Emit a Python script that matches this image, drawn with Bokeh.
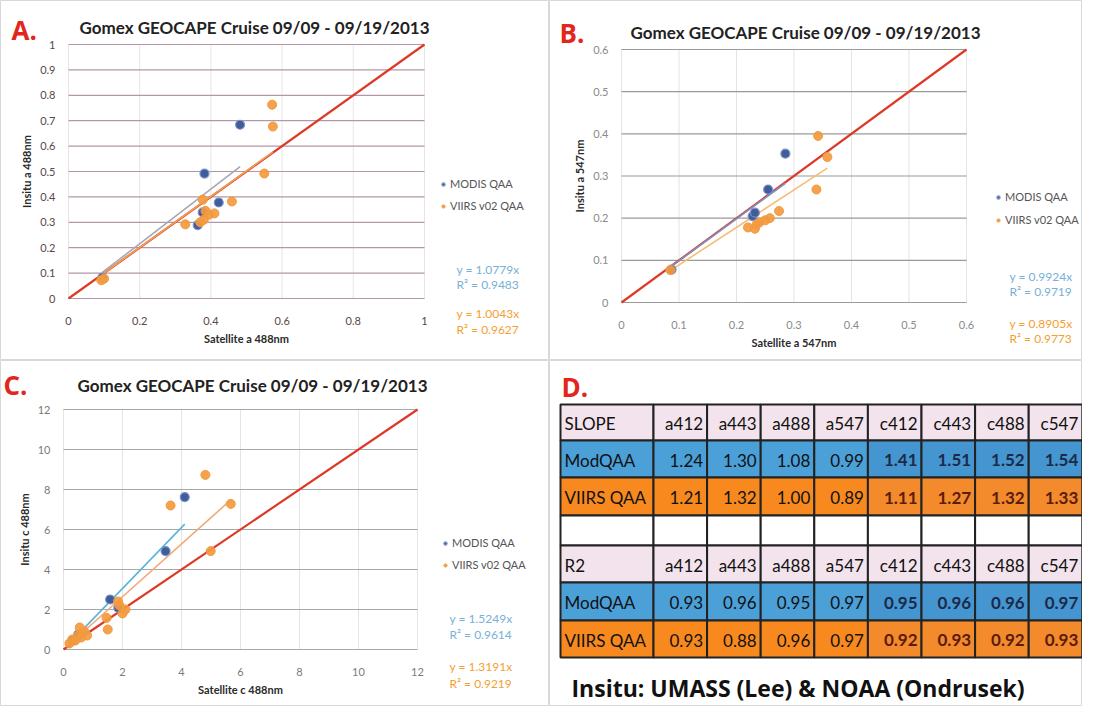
from bokeh.plotting import figure
from bokeh.layouts import column, row
from bokeh.models import Range1d, FixedTicker, Label, Legend, LegendItem
from bokeh.embed import file_html
from bokeh.resources import INLINE
from bokeh.core.properties import value

# ---------------- data ----------------
chart_title = "Gomex GEOCAPE Cruise 09/09 - 09/19/2013"
series_names = ["MODIS QAA", "VIIRS v02 QAA"]

# Panel A : a 488nm
a488_modis_sat = [0.482, 0.382, 0.422, 0.377, 0.363, 0.095]
a488_modis_ins = [0.684, 0.492, 0.378, 0.339, 0.289, 0.082]
a488_viirs_sat = [0.572, 0.574, 0.550, 0.459, 0.377, 0.328, 0.385, 0.395, 0.410, 0.380, 0.370, 0.092, 0.100]
a488_viirs_ins = [0.763, 0.677, 0.492, 0.382, 0.389, 0.292, 0.345, 0.330, 0.335, 0.310, 0.300, 0.072, 0.078]
a488_fit = {"modis": (1.0779, 0.9483), "viirs": (1.0043, 0.9627)}
a488_ticks_x = [0, 0.2, 0.4, 0.6, 0.8, 1]
a488_ticks_y = [0, 0.1, 0.2, 0.3, 0.4, 0.5, 0.6, 0.7, 0.8, 0.9, 1]

# Panel B : a 547nm
a547_modis_sat = [0.285, 0.255, 0.228, 0.232, 0.087]
a547_modis_ins = [0.353, 0.268, 0.205, 0.213, 0.078]
a547_viirs_sat = [0.342, 0.358, 0.339, 0.274, 0.220, 0.232, 0.240, 0.250, 0.258, 0.235, 0.085]
a547_viirs_ins = [0.395, 0.345, 0.268, 0.217, 0.178, 0.175, 0.190, 0.195, 0.200, 0.185, 0.077]
a547_fit = {"modis": (0.9924, 0.9719), "viirs": (0.8905, 0.9773)}
a547_ticks_x = [0, 0.1, 0.2, 0.3, 0.4, 0.5, 0.6]
a547_ticks_y = [0, 0.1, 0.2, 0.3, 0.4, 0.5, 0.6]

# Panel C : c 488nm
c488_modis_sat = [4.11, 3.46, 1.58, 1.86, 0.30, 0.50]
c488_modis_ins = [7.62, 4.92, 2.50, 2.08, 0.45, 0.75]
c488_viirs_sat = [4.81, 3.63, 5.67, 4.99, 1.90, 2.00, 2.10, 1.85, 1.50, 1.46,
                  0.55, 0.70, 0.50, 0.30, 0.20, 0.60, 0.40, 0.80]
c488_viirs_ins = [8.73, 7.20, 7.28, 4.92, 2.20, 1.80, 2.00, 2.40, 1.00, 1.58,
                  1.10, 0.90, 0.70, 0.50, 0.30, 0.60, 0.45, 0.70]
c488_fit = {"modis": (1.5249, 0.9614), "viirs": (1.3191, 0.9219)}
c488_ticks_x = [0, 2, 4, 6, 8, 10, 12]
c488_ticks_y = [0, 2, 4, 6, 8, 10, 12]

# Panel D : table
table_cols = ["a412", "a443", "a488", "a547", "c412", "c443", "c488", "c547"]
slope_modis = [1.24, 1.30, 1.08, 0.99, 1.41, 1.51, 1.52, 1.54]
slope_viirs = [1.21, 1.32, 1.00, 0.89, 1.11, 1.27, 1.32, 1.33]
r2_modis = [0.93, 0.96, 0.95, 0.97, 0.95, 0.96, 0.96, 0.97]
r2_viirs = [0.93, 0.88, 0.96, 0.97, 0.92, 0.93, 0.92, 0.93]
row_names = ["ModQAA", "VIIRS QAA"]
footer = "Insitu: UMASS (Lee) & NOAA (Ondrusek)"

FONT = "Lato"
MODIS_C = "#3f5d9c"
VIIRS_C = "#f39a3e"
RED_C = "#dc3a26"
PANEL_EDGE = "#d8d8d8"


def fmt_tick(t):
    return "%g" % t


def make_chart(letter, xlab, ylab, xmax, ticks_x, ticks_y, ms, mi, vs, vi, fit,
               W, H, fl, fr, ft, fb, hgrid, vgrid, tick_color,
               title_pos, letter_pos, legend_pos, legend_sp,
               eq_x, eq_ys, trend_colors):
    # fl/fr/ft/fb: pixel edges of the plotting area inside the panel
    sx = xmax / (fr - fl)
    sy = xmax / (fb - ft)

    def P(rx, ry):
        return ((rx - fl) * sx, (fb - ry) * sy)

    p = figure(width=W, height=H, output_backend="svg", toolbar_location=None,
               x_range=Range1d(-fl * sx, (W - fl) * sx),
               y_range=Range1d((fb - H) * sy, fb * sy),
               min_border_left=0, min_border_right=0,
               min_border_top=0, min_border_bottom=0)
    p.outline_line_color = PANEL_EDGE
    p.background_fill_color = "white"
    p.border_fill_color = "white"
    p.grid.visible = False
    for ax, tk in ((p.xaxis[0], ticks_x), (p.yaxis[0], ticks_y)):
        ax.ticker = FixedTicker(ticks=tk)
        ax.major_label_overrides = {t: fmt_tick(t) for t in tk}
        ax.fixed_location = 0
        ax.bounds = (0, xmax)
        ax.axis_line_color = None
        ax.major_tick_line_color = None
        ax.minor_tick_line_color = None
        ax.major_label_text_font = FONT
        ax.major_label_text_font_size = "11px"
        ax.major_label_text_color = tick_color
        ax.axis_label_text_font = FONT
        ax.axis_label_text_font_size = "11px"
        ax.axis_label_text_font_style = "bold"
        ax.axis_label_text_color = "#2a2a2a"
    p.xaxis.axis_label = xlab
    p.yaxis.axis_label = ylab
    p.xaxis.major_label_standoff = 12
    p.xaxis.axis_label_standoff = 4
    p.yaxis.major_label_standoff = 7
    p.yaxis.axis_label_standoff = 4

    # grid lines limited to the plotting area
    p.segment(x0=ticks_x, y0=[0] * len(ticks_x), x1=ticks_x, y1=[xmax] * len(ticks_x),
              line_color=vgrid, line_width=1)
    p.segment(x0=[0] * len(ticks_y), y0=ticks_y, x1=[xmax] * len(ticks_y), y1=ticks_y,
              line_color=hgrid, line_width=1.2)

    # 1:1 line
    p.line([0, xmax], [0, xmax], line_color=RED_C, line_width=2.2)
    # trend lines (through origin, between min and max satellite value)
    m_slope = fit["modis"][0]
    v_slope = fit["viirs"][0]
    p.line([min(ms), max(ms)], [m_slope * min(ms), m_slope * max(ms)],
           line_color=trend_colors[0], line_width=1.6)
    p.line([min(vs), max(vs)], [v_slope * min(vs), v_slope * max(vs)],
           line_color=trend_colors[1], line_width=1.6)

    r_m = p.scatter(ms, mi, size=9, fill_color=MODIS_C, line_color="#7d93c4",
                    line_width=1.2)
    r_v = p.scatter(vs, vi, size=9, fill_color=VIIRS_C, line_color=VIIRS_C,
                    fill_alpha=0.92)

    legend = Legend(items=[LegendItem(label=series_names[0], renderers=[r_m]),
                           LegendItem(label=series_names[1], renderers=[r_v])],
                    location=(legend_pos[0], H - legend_pos[1]), padding=0, margin=0,
                    spacing=legend_sp, glyph_width=8, glyph_height=12,
                    label_height=12, label_standoff=3,
                    label_text_font=FONT, label_text_font_size="11px",
                    label_text_color="#555555",
                    background_fill_alpha=0, border_line_color=None)
    p.add_layout(legend)

    eq_texts = ["y = %.4fx" % m_slope, "R\u00b2 = %.4f" % fit["modis"][1],
                "y = %.4fx" % v_slope, "R\u00b2 = %.4f" % fit["viirs"][1]]
    eq_colors = ["#78b0d6", "#78b0d6", "#f4a030", "#f4a030"]
    for t, yy, c in zip(eq_texts, eq_ys, eq_colors):
        dx, dy = P(eq_x, yy)
        p.add_layout(Label(x=dx, y=dy, text=t, text_font=FONT, text_font_size="12px",
                           text_color=c, text_baseline="middle"))

    dx, dy = P(*title_pos)
    p.add_layout(Label(x=dx, y=dy, text=chart_title, text_font=FONT,
                       text_font_size="17px", text_font_style="bold",
                       text_color="#222222", text_align="center",
                       text_baseline="middle"))
    dx, dy = P(*letter_pos)
    p.add_layout(Label(x=dx, y=dy, text=letter, text_font="Open Sans",
                       text_font_size="26px", text_font_style="bold",
                       text_color="#e2261b", text_baseline="middle"))
    return p


pA = make_chart("A.", "Satellite a 488nm", "Insitu a 488nm", 1, a488_ticks_x, a488_ticks_y,
                a488_modis_sat, a488_modis_ins, a488_viirs_sat, a488_viirs_ins, a488_fit,
                W=549, H=360, fl=68, fr=424, ft=44, fb=298,
                hgrid="#b397a8", vgrid="#e6e6e6", tick_color="#5a4646",
                title_pos=(254, 27), letter_pos=(11, 29),
                legend_pos=(439, 212), legend_sp=9,
                eq_x=456, eq_ys=[269, 284, 313, 329],
                trend_colors=["#a9a6b4", "#f0a050"])

pB = make_chart("B.", "Satellite a 547nm", "Insitu a 547nm", 0.6, a547_ticks_x, a547_ticks_y,
                a547_modis_sat, a547_modis_ins, a547_viirs_sat, a547_viirs_ins, a547_fit,
                W=533, H=360, fl=72, fr=417, ft=49, fb=302,
                hgrid="#9a9a9a", vgrid="#e4e4e4", tick_color="#8a8a8a",
                title_pos=(256, 32), letter_pos=(10, 32),
                legend_pos=(445, 226), legend_sp=10,
                eq_x=460, eq_ys=[276, 291, 323, 338],
                trend_colors=["#7f8fc0", "#f5bd78"])

pC = make_chart("C.", "Satellite c 488nm", "Insitu c 488nm", 12, c488_ticks_x, c488_ticks_y,
                c488_modis_sat, c488_modis_ins, c488_viirs_sat, c488_viirs_ins, c488_fit,
                W=549, H=346, fl=63, fr=417, ft=49, fb=289,
                hgrid="#a8a8a8", vgrid="#e4e4e4", tick_color="#7a7a7a",
                title_pos=(252, 25), letter_pos=(3, 24),
                legend_pos=(441, 211), legend_sp=9,
                eq_x=449, eq_ys=[258, 274, 306, 323],
                trend_colors=["#5ab3da", "#f2a878"])

# ---------------- table ----------------
DW, DH = 533, 346
pD = figure(width=DW, height=DH, output_backend="svg", toolbar_location=None,
            x_range=Range1d(0, DW), y_range=Range1d(DH, 0),
            min_border_left=0, min_border_right=0, min_border_top=0, min_border_bottom=0)
pD.axis.visible = False
pD.grid.visible = False
pD.outline_line_color = PANEL_EDGE

x0 = 11
first_w = 93
col_w = 53.6
edges = [x0, x0 + first_w] + [x0 + first_w + col_w * (i + 1) for i in range(len(table_cols))]
row_tops = [44, 80, 117, 155, 185, 222, 260]
row_bots = [80, 117, 155, 185, 222, 260, 297]

HEAD = "#f3e3ec"
BLUE_A, BLUE_C = "#4ba0d8", "#4596d0"
ORNG_A, ORNG_C = "#f7891f", "#f38a2c"

blocks = [("SLOPE", None, None), (row_names[0], slope_modis, "b"), (row_names[1], slope_viirs, "o"),
          (None, None, None),
          ("R2", None, None), (row_names[0], r2_modis, "b"), (row_names[1], r2_viirs, "o")]

L, R, T, B, FC = [], [], [], [], []
tx, ty, tt, talign, tcol, tstyle = [], [], [], [], [], []
for ri, (name, vals, kind) in enumerate(blocks):
    top, bot = row_tops[ri], row_bots[ri]
    ymid = (top + bot) / 2
    for ci in range(len(edges) - 1):
        left, right = edges[ci], edges[ci + 1]
        is_c = ci >= 5
        if name is None:
            fc = "white"
        elif kind is None:
            fc = HEAD
        elif kind == "b":
            fc = BLUE_C if is_c else BLUE_A
        else:
            fc = ORNG_C if is_c else ORNG_A
        L.append(left); R.append(right); T.append(top); B.append(bot); FC.append(fc)
        if name is None:
            continue
        if ci == 0:
            tx.append(left + 4); talign.append("left"); tt.append(name)
            tcol.append("#111111"); tstyle.append("normal")
        else:
            tx.append(right - 4); talign.append("right")
            if kind is None:
                tt.append(table_cols[ci - 1])
                tcol.append("#111111")
            else:
                tt.append("%.2f" % vals[ci - 1])
                if is_c:
                    tcol.append("#1c2a4a" if kind == "b" else "#5a1c0c")
                else:
                    tcol.append("#111111")
            tstyle.append("bold" if (is_c and kind is not None) else "normal")
        ty.append(ymid + 1)

pD.quad(left=L, right=R, top=T, bottom=B, fill_color=FC, line_color="#222222", line_width=2)
pD.text(x=tx, y=ty, text=tt, text_align=talign, text_baseline="middle",
        text_font=value("Lato"), text_font_size="17px", text_color=tcol,
        text_font_style=tstyle)
pD.add_layout(Label(x=12, y=26, text="D.",
                    text_font="Open Sans", text_font_size="26px",
                    text_font_style="bold", text_color="#e2261b", text_baseline="middle"))
pD.add_layout(Label(x=22, y=327, text=footer,
                    text_font="Open Sans", text_font_size="23px",
                    text_font_style="bold", text_color="#111111", text_baseline="middle"))

layout = column(row(pA, pB), row(pC, pD), spacing=0)
open("out.html", "w").write(file_html(layout, INLINE))
